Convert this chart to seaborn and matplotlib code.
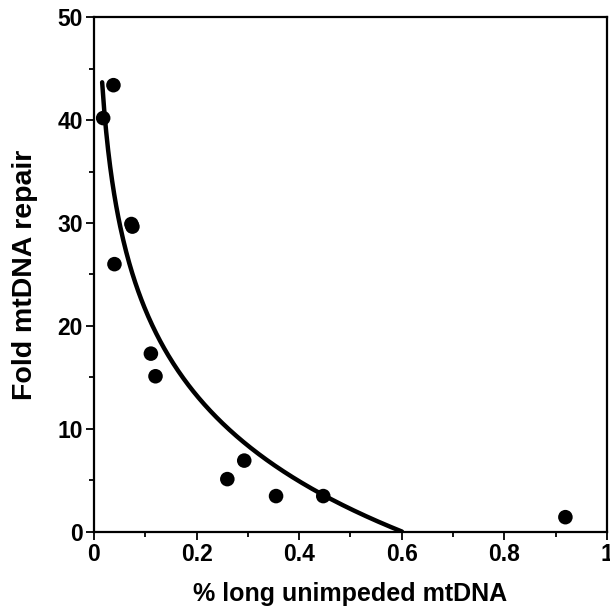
import numpy as np
import pandas as pd
import matplotlib
matplotlib.use("Agg")
import matplotlib.pyplot as plt
import seaborn as sns
from matplotlib.ticker import MultipleLocator

# values
pct_long = [0.018, 0.038, 0.040, 0.073, 0.075, 0.111, 0.120, 0.260, 0.293, 0.355, 0.447, 0.919]
fold_repair = [40.2, 43.4, 26.0, 29.9, 29.65, 17.3, 15.1, 5.1, 6.9, 3.45, 3.45, 1.4]

x_ticks = [0, 0.2, 0.4, 0.6, 0.8, 1.0]
x_ticklabels = ["0", "0.2", "0.4", "0.6", "0.8", "1"]
y_ticks = [0, 10, 20, 30, 40, 50]

data = pd.DataFrame({"x": pct_long, "y": fold_repair})

# logarithmic fit y = a*ln(x) + b, drawn down to where it hits zero
a, b = np.polyfit(np.log(data["x"]), data["y"], 1)
x_end = np.exp(-b / a)
xs = np.linspace(0.016, x_end, 300)
fit = pd.DataFrame({"x": xs, "y": a * np.log(xs) + b})

sns.set_style("ticks")
plt.rcParams["font.family"] = ["Liberation Sans", "DejaVu Sans"]
plt.rcParams["font.weight"] = "bold"
plt.rcParams["text.color"] = "black"
plt.rcParams["axes.labelcolor"] = "black"
plt.rcParams["xtick.color"] = "black"
plt.rcParams["ytick.color"] = "black"

fig = plt.figure(figsize=(6.10, 6.11), dpi=100)
ax = fig.add_axes([0.154, 0.130, 0.841, 0.8417])

sns.lineplot(data=fit, x="x", y="y", color="black", linewidth=3.2, ax=ax)
sns.scatterplot(data=data, x="x", y="y", color="black", s=110, edgecolor="none", ax=ax, zorder=3)

ax.set_xlim(0, 1)
ax.set_ylim(0, 50)
ax.set_xticks(x_ticks)
ax.set_xticklabels(x_ticklabels)
ax.set_yticks(y_ticks)
ax.xaxis.set_minor_locator(MultipleLocator(0.1))
ax.yaxis.set_minor_locator(MultipleLocator(5))
ax.tick_params(which="major", direction="out", length=6, width=1.3, labelsize=16.5, pad=2,
               colors="black")
ax.tick_params(which="minor", direction="out", length=3.5, width=1.3, colors="black")
for lab in ax.get_xticklabels() + ax.get_yticklabels():
    lab.set_fontweight("bold")

for side in ["left", "bottom", "top", "right"]:
    ax.spines[side].set_visible(True)
    ax.spines[side].set_linewidth(1.6)
    ax.spines[side].set_color("black")

ax.set_xlabel("% long unimpeded mtDNA", fontsize=18, fontweight="bold", labelpad=12, color="black")
ax.set_ylabel("Fold mtDNA repair", fontsize=20.5, fontweight="bold", labelpad=14, color="black")

fig.savefig("out.png", dpi=100)
